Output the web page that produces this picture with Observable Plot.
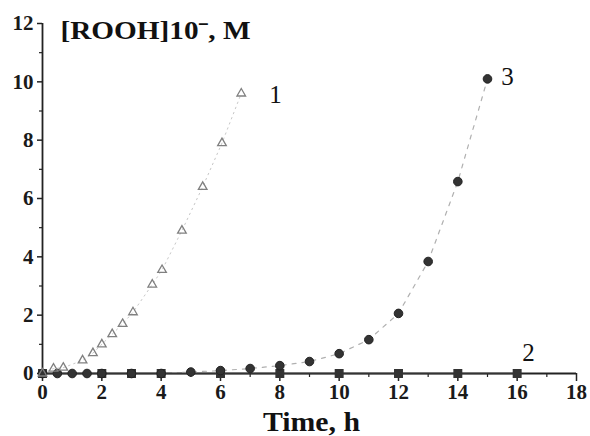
<!DOCTYPE html>
<html>
<head>
<meta charset="utf-8">
<script src="https://cdn.jsdelivr.net/npm/d3@7"></script>
<script src="https://cdn.jsdelivr.net/npm/@observablehq/plot@0.6"></script>
<style>
  html, body { margin: 0; padding: 0; background: #fff; }
  svg { display: block; }
</style>
</head>
<body>
<div id="chart"></div>
<script>
// Curve 1 (triangles)
const time1 = [0, 0.37, 0.7, 1.35, 1.7, 2.0, 2.35, 2.7, 3.05, 3.7, 4.03, 4.7, 5.4, 6.05, 6.7];
const rooh1 = [0, 0.17, 0.2, 0.45, 0.7, 1.0, 1.35, 1.7, 2.1, 3.05, 3.55, 4.9, 6.4, 7.9, 9.6];
// Curve 2 (squares)
const time2 = [0, 2, 3, 4, 6, 8, 10, 12, 14, 16];
const rooh2 = [0, 0, 0, 0, 0, 0, 0, 0, 0, 0];
// Curve 3 (circles)
const time3 = [0, 0.5, 1, 1.5, 2, 3, 4, 5, 6, 7, 8, 9, 10, 11, 12, 13, 14, 15];
const rooh3 = [0, 0, 0, 0, 0, 0, 0, 0.05, 0.1, 0.17, 0.27, 0.41, 0.68, 1.16, 2.06, 3.84, 6.58, 10.1];

const curveLabels = ["1", "2", "3"];
const curveLabelTime = [7.85, 16.38, 15.67];
const curveLabelValue = [9.56, 0.69, 10.15];

const xMajor = [0, 2, 4, 6, 8, 10, 12, 14, 16, 18];
const xMinor = [1, 3, 5, 7, 9, 11, 13, 15, 17];
const yMajor = [0, 2, 4, 6, 8, 10, 12];
const yMinor = [1, 3, 5, 7, 9, 11];

const yTitle = "[ROOH]10\u02C9, M";
const xTitle = "Time, h";

const s1 = time1.map((t, i) => ({t, v: rooh1[i]}));
const s2 = time2.map((t, i) => ({t, v: rooh2[i]}));
const s3 = time3.map((t, i) => ({t, v: rooh3[i]}));
const labs = curveLabels.map((s, i) => ({s, t: curveLabelTime[i], v: curveLabelValue[i]}));

const serif = "'Liberation Serif', 'DejaVu Serif', serif";

const chart = Plot.plot({
  width: 590,
  height: 436,
  marginLeft: 42,
  marginRight: 14,
  marginTop: 23,
  marginBottom: 63,
  x: {domain: [0, 18]},
  y: {domain: [0, 12]},
  style: {fontFamily: serif, fontSize: "21px", color: "#1a1a1a", background: "#fff"},
  marks: [
    Plot.axisX({ticks: xMajor, tickSize: 8, tickPadding: 3, fontSize: 21, fontWeight: "bold", label: null, stroke: "#222", strokeWidth: 1.5}),
    Plot.axisX({ticks: xMinor, tickSize: 4, tickFormat: () => "", label: null, stroke: "#222", strokeWidth: 1.2}),
    Plot.axisY({ticks: yMajor, tickSize: 5, tickPadding: 4, fontSize: 21, fontWeight: "bold", label: null, stroke: "#222", strokeWidth: 1.5}),
    Plot.axisY({ticks: yMinor, tickSize: 3, tickFormat: () => "", label: null, stroke: "#222", strokeWidth: 1.2}),
    Plot.ruleX([0], {stroke: "#222", strokeWidth: 1.8}),
    Plot.ruleY([0], {stroke: "#222", strokeWidth: 1.8}),
    // dotted guide lines
    Plot.line(s1, {x: "t", y: "v", stroke: "#c8c8c8", strokeWidth: 1, strokeDasharray: "1.5,4"}),
    Plot.line(s3, {x: "t", y: "v", stroke: "#b0b0b0", strokeWidth: 1.2, strokeDasharray: "4,6"}),
    Plot.line(s2, {x: "t", y: "v", stroke: "#333", strokeWidth: 1.6}),
    // markers
    Plot.dot(s2, {x: "t", y: "v", symbol: "square", r: 4.2, fill: "#333", stroke: "#333"}),
    Plot.dot(s3, {x: "t", y: "v", symbol: "circle", r: 4.3, fill: "#333", stroke: "#222", strokeWidth: 1}),
    Plot.dot(s1, {x: "t", y: "v", symbol: "triangle", r: 3.2, fill: "none", stroke: "#808080", strokeWidth: 1.3}),
    // curve labels
    Plot.text(labs, {x: "t", y: "v", text: "s", fontSize: 25, fill: "#111", textAnchor: "middle", lineAnchor: "middle"}),
    // titles
    Plot.text([yTitle], {frameAnchor: "top-left", dx: 18, dy: 7, text: d => d, fontSize: 25, fontWeight: "bold", fill: "#111", textAnchor: "start", lineAnchor: "middle", className: "ytitle"}),
    Plot.text([xTitle], {frameAnchor: "bottom", dx: 2, dy: 49, text: d => d, fontSize: 27, fontWeight: "bold", fill: "#111", textAnchor: "middle", lineAnchor: "middle", className: "xtitle"})
  ]
});

document.getElementById("chart").appendChild(chart);
// tick label typography (bold serif, as in the scanned original)
chart.querySelectorAll('g[aria-label$="tick label"]').forEach(g => {
  g.setAttribute("font-family", serif);
  g.setAttribute("font-size", "21");
  g.setAttribute("font-weight", "bold");
  g.setAttribute("fill", "#1a1a1a");
  g.querySelectorAll("text").forEach(t => {
    t.style.fontFamily = serif;
    t.style.fontSize = "21px";
    t.style.fontWeight = "bold";
  });
});
// stretch titles horizontally as in the scanned original
chart.querySelectorAll(".ytitle text").forEach(t => { t.setAttribute("textLength", 190); t.setAttribute("lengthAdjust", "spacingAndGlyphs"); });
chart.querySelectorAll(".xtitle text").forEach(t => { t.setAttribute("textLength", 97); t.setAttribute("lengthAdjust", "spacingAndGlyphs"); });
</script>
</body>
</html>
